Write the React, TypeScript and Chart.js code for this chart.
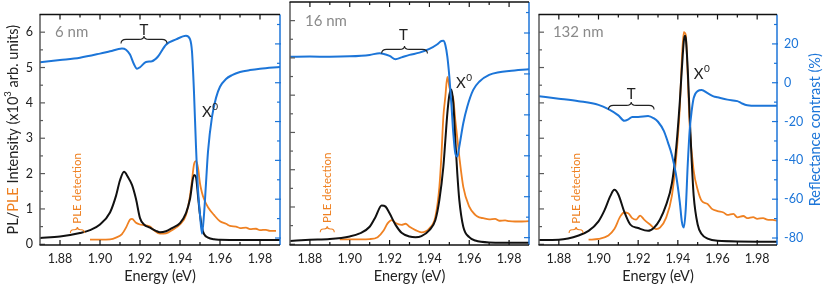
import React, { useEffect, useRef } from 'react';
import { Chart, registerables } from 'chart.js';

Chart.register(...registerables);

const FONT = 'Lato, "Open Sans", sans-serif';
const BLUE = '#1C75D8';
const ORANGE = '#EF8122';
const BLACK = '#111111';
const AXIS_GRAY = '#5a5a5a';
const TEXT = '#222222';
const LABEL_GRAY = '#8a8a8a';

// ---- axis ticks ----
const energyTicks = [1.88, 1.90, 1.92, 1.94, 1.96, 1.98];
const energyMinorTicks = [1.89, 1.91, 1.93, 1.95, 1.97];
const intensityTicks = [0, 1, 2, 3, 4, 5, 6];
const intensityMinorTicks = [0.5, 1.5, 2.5, 3.5, 4.5, 5.5];
const contrastTicks = [-80, -60, -40, -20, 0, 20];
const contrastMinorTicks = [-70, -50, -30, -10, 10, 30];

const E_MIN = 1.87, E_MAX = 1.99;
const I_MIN = -0.02, I_MAX = 6.5;
const R_MIN = -83.6, R_MAX = 35.15;

// ---- 6 nm ----
const pl6E = [1.87, 1.88, 1.89, 1.895, 1.90, 1.905, 1.908, 1.910, 1.912, 1.914, 1.916, 1.918, 1.92, 1.922, 1.925, 1.928, 1.93, 1.933, 1.936, 1.94, 1.943, 1.945, 1.947, 1.948, 1.949, 1.950, 1.951, 1.952, 1.954, 1.957, 1.96, 1.97, 1.99];
const pl6 = [0.18, 0.22, 0.32, 0.40, 0.56, 0.90, 1.37, 1.81, 2.05, 1.90, 1.68, 1.28, 0.74, 0.56, 0.47, 0.38, 0.34, 0.37, 0.46, 0.60, 0.88, 1.28, 1.96, 1.90, 1.37, 0.83, 0.47, 0.29, 0.19, 0.14, 0.13, 0.12, 0.12];
const ple6E = [1.895, 1.90, 1.905, 1.908, 1.911, 1.913, 1.915, 1.916, 1.918, 1.92, 1.922, 1.925, 1.927, 1.93, 1.933, 1.936, 1.94, 1.943, 1.945, 1.946, 1.947, 1.948, 1.949, 1.950, 1.951, 1.952, 1.954, 1.957, 1.96, 1.963, 1.965, 1.968, 1.97, 1.973, 1.975, 1.978, 1.98, 1.983, 1.985, 1.988];
const ple6 = [0.13, 0.13, 0.14, 0.19, 0.29, 0.47, 0.70, 0.72, 0.61, 0.56, 0.54, 0.50, 0.40, 0.30, 0.31, 0.40, 0.56, 0.83, 1.37, 1.81, 2.26, 2.35, 2.17, 1.72, 1.46, 1.28, 1.05, 0.83, 0.65, 0.58, 0.52, 0.50, 0.46, 0.47, 0.43, 0.44, 0.40, 0.41, 0.38, 0.38];
const rc6E = [1.87, 1.88, 1.89, 1.90, 1.905, 1.911, 1.913, 1.915, 1.917, 1.9185, 1.920, 1.923, 1.926, 1.929, 1.933, 1.938, 1.943, 1.945, 1.946, 1.947, 1.948, 1.949, 1.950, 1.951, 1.952, 1.953, 1.954, 1.956, 1.958, 1.96, 1.963, 1.966, 1.97, 1.975, 1.98, 1.99];
const rc6 = [10.6, 11.7, 12.9, 15.0, 16.2, 17.6, 17.0, 14.5, 9.5, 7.2, 8.0, 10.7, 11.1, 13.5, 19.6, 22.3, 24.2, 22.5, 16, -5, -33, -55, -68, -77.8, -68, -51.8, -35.5, -17.6, -7.8, -2.1, 1.9, 3.9, 5.5, 6.5, 7.2, 8.1];

// ---- 16 nm ----
const pl16E = [1.87, 1.88, 1.89, 1.90, 1.905, 1.91, 1.913, 1.916, 1.918, 1.92, 1.923, 1.926, 1.93, 1.933, 1.936, 1.94, 1.943, 1.945, 1.947, 1.948, 1.949, 1.950, 1.951, 1.952, 1.953, 1.954, 1.955, 1.957, 1.96, 1.963, 1.97, 1.99];
const pl16 = [0.09, 0.12, 0.14, 0.21, 0.29, 0.47, 0.74, 1.04, 1.01, 0.83, 0.52, 0.31, 0.21, 0.19, 0.22, 0.38, 0.65, 1.19, 2.08, 2.79, 3.51, 4.0, 4.15, 3.78, 2.79, 1.9, 1.19, 0.47, 0.19, 0.10, 0.05, 0.04];
const ple16E = [1.895, 1.90, 1.91, 1.914, 1.917, 1.919, 1.921, 1.923, 1.926, 1.928, 1.93, 1.933, 1.936, 1.94, 1.943, 1.945, 1.946, 1.947, 1.948, 1.949, 1.950, 1.951, 1.952, 1.953, 1.955, 1.957, 1.96, 1.963, 1.965, 1.967, 1.97, 1.973, 1.975, 1.978, 1.98, 1.983, 1.985, 1.99];
const ple16 = [0.13, 0.13, 0.14, 0.19, 0.37, 0.56, 0.65, 0.57, 0.52, 0.55, 0.47, 0.38, 0.32, 0.43, 0.74, 1.54, 2.35, 3.42, 3.96, 4.49, 4.22, 4.04, 3.9, 3.33, 2.35, 1.54, 1.01, 0.79, 0.72, 0.70, 0.67, 0.68, 0.63, 0.64, 0.62, 0.61, 0.61, 0.62];
const rc16E = [1.87, 1.88, 1.89, 1.90, 1.91, 1.915, 1.92, 1.923, 1.926, 1.93, 1.935, 1.94, 1.944, 1.946, 1.947, 1.948, 1.949, 1.950, 1.951, 1.952, 1.953, 1.954, 1.955, 1.957, 1.959, 1.962, 1.965, 1.97, 1.975, 1.98, 1.99];
const rc16 = [8.4, 8.5, 8.4, 8.6, 9.3, 10.1, 8.8, 7.2, 8.1, 9.3, 10.4, 12.2, 14.5, 16.1, 16.2, 14.1, 8.4, -1.3, -14.3, -29, -38.8, -40.4, -35.5, -24.1, -16, -7.8, -3.8, -0.5, 0.8, 1.4, 2.3];

// ---- 132 nm ----
const pl132E = [1.87, 1.88, 1.89, 1.895, 1.90, 1.903, 1.906, 1.908, 1.910, 1.913, 1.916, 1.92, 1.925, 1.928, 1.931, 1.934, 1.937, 1.939, 1.941, 1.942, 1.943, 1.9435, 1.944, 1.945, 1.946, 1.947, 1.948, 1.95, 1.952, 1.955, 1.96, 1.99];
const pl132 = [0.12, 0.13, 0.25, 0.38, 0.65, 0.96, 1.37, 1.54, 1.41, 0.92, 0.56, 0.46, 0.38, 0.47, 0.70, 1.1, 1.72, 2.62, 4.04, 4.94, 5.74, 5.9, 5.83, 4.94, 3.6, 2.35, 1.37, 0.56, 0.29, 0.16, 0.10, 0.07];
const ple132E = [1.895, 1.90, 1.905, 1.908, 1.911, 1.913, 1.915, 1.917, 1.919, 1.921, 1.923, 1.926, 1.929, 1.931, 1.934, 1.937, 1.939, 1.941, 1.942, 1.943, 1.944, 1.945, 1.946, 1.948, 1.95, 1.952, 1.955, 1.957, 1.96, 1.963, 1.965, 1.968, 1.97, 1.973, 1.975, 1.978, 1.98, 1.983, 1.985, 1.988, 1.99];
const ple132 = [0.13, 0.15, 0.25, 0.43, 0.79, 0.9, 0.88, 0.74, 0.70, 0.81, 0.70, 0.56, 0.43, 0.47, 0.74, 1.37, 2.35, 3.87, 5.2, 6.0, 5.92, 4.76, 3.33, 2.08, 1.54, 1.23, 1.14, 1.01, 0.94, 0.90, 0.83, 0.86, 0.76, 0.80, 0.74, 0.77, 0.72, 0.74, 0.70, 0.69, 0.67];
const rc132E = [1.87, 1.88, 1.89, 1.90, 1.905, 1.91, 1.913, 1.915, 1.917, 1.92, 1.925, 1.928, 1.93, 1.933, 1.935, 1.937, 1.939, 1.941, 1.942, 1.943, 1.944, 1.945, 1.946, 1.947, 1.948, 1.95, 1.952, 1.955, 1.958, 1.96, 1.965, 1.97, 1.972, 1.975, 1.98, 1.99];
const rc132 = [-7.0, -8.2, -9.5, -11.4, -13.6, -16.8, -19.6, -18.9, -17.6, -17.6, -17.1, -18.4, -20.1, -24.9, -30.7, -37.2, -46.9, -61.6, -71.4, -74.6, -64.9, -42, -24.1, -14.4, -7.9, -4.3, -3.8, -5.4, -7, -7.5, -8.7, -9.5, -10.5, -11.6, -11.9, -11.9];

const zip = (xs: number[], ys: number[]) => xs.map((x, i) => ({ x, y: ys[i] }));

const panels = [
  {
    key: 'p6', label: '6 nm', pl: zip(pl6E, pl6), ple: zip(ple6E, ple6), rc: zip(rc6E, rc6),
    padding: { left: 0, right: 550, top: 2, bottom: 0 }, showLeft: true, showRight: false,
    labelPos: [1.8775, 5.99], tPos: [1.922, 6.07], brace: [1.9105, 1.9335, 5.795], x0Pos: [1.951, 3.735], plePos: [1.8887, 0.3],
  },
  {
    key: 'p16', label: '16 nm', pl: zip(pl16E, pl16), ple: zip(ple16E, ple16), rc: zip(rc16E, rc16),
    padding: { left: 290, right: 301, top: 2, bottom: 0 }, showLeft: false, showRight: false,
    labelPos: [1.8775, 5.99], tPos: [1.927, 5.615], brace: [1.916, 1.939, 5.23], x0Pos: [1.9533, 4.33], plePos: [1.8887, 0.3],
  },
  {
    key: 'p132', label: '132 nm', pl: zip(pl132E, pl132), ple: zip(ple132E, ple132), rc: zip(rc132E, rc132),
    padding: { left: 539, right: 0, top: 2, bottom: 0 }, showLeft: false, showRight: true,
    labelPos: [1.877, 5.99], tPos: [1.9165, 4.25], brace: [1.905, 1.928, 3.93], x0Pos: [1.948, 4.81], plePos: [1.8887, 0.3],
  },
];

const line = (ctx: any, x1: number, y1: number, x2: number, y2: number) => {
  ctx.beginPath(); ctx.moveTo(x1, y1); ctx.lineTo(x2, y2); ctx.stroke();
};

const drawBrace = (ctx: any, x1: number, x2: number, y: number, h: number, r = 5) => {
  const xm = (x1 + x2) / 2;
  ctx.beginPath();
  ctx.moveTo(x1, y + h * 0.55);
  ctx.quadraticCurveTo(x1, y, x1 + r, y);
  ctx.lineTo(xm - r, y);
  ctx.quadraticCurveTo(xm, y, xm, y - h * 0.45);
  ctx.quadraticCurveTo(xm, y, xm + r, y);
  ctx.lineTo(x2 - r, y);
  ctx.quadraticCurveTo(x2, y, x2, y + h * 0.55);
  ctx.stroke();
};

const decoPlugin = {
  id: 'panelDeco',
  afterDatasetsDraw(chart: any, _args: any, o: any) {
    const { ctx, chartArea: a, scales } = chart;
    const sx = scales.x, sy = scales.y, sr = scales.y1;
    const MAJ = 5, MIN = 3;
    ctx.save();
    ctx.lineWidth = 1.2;
    // left axis
    ctx.strokeStyle = AXIS_GRAY;
    intensityTicks.forEach(v => { const y = sy.getPixelForValue(v); line(ctx, a.left, y, a.left + MAJ, y); });
    intensityMinorTicks.forEach(v => { const y = sy.getPixelForValue(v); line(ctx, a.left, y, a.left + MIN, y); });
    ctx.lineWidth = 1.5;
    line(ctx, a.left, a.top, a.left, a.bottom);
    // right axis
    ctx.lineWidth = 1.2;
    ctx.strokeStyle = BLUE;
    contrastTicks.forEach(v => { const y = sr.getPixelForValue(v); line(ctx, a.right + 1, y, a.right - MAJ, y); });
    contrastMinorTicks.forEach(v => { const y = sr.getPixelForValue(v); line(ctx, a.right, y, a.right - MIN, y); });
    ctx.lineWidth = 1.5;
    line(ctx, a.right, a.top, a.right, a.bottom);
    // top & bottom
    ctx.strokeStyle = BLACK;
    ctx.lineWidth = 1.2;
    energyTicks.forEach(v => { const x = sx.getPixelForValue(v); line(ctx, x, a.bottom, x, a.bottom - MAJ); line(ctx, x, a.top, x, a.top + MAJ); });
    energyMinorTicks.forEach(v => { const x = sx.getPixelForValue(v); line(ctx, x, a.bottom, x, a.bottom - MIN); line(ctx, x, a.top, x, a.top + MIN); });
    ctx.lineWidth = 1.5;
    line(ctx, a.left - 0.5, a.top, a.right, a.top);
    line(ctx, a.left - 0.5, a.bottom, a.right, a.bottom);

    // annotations
    ctx.textBaseline = 'middle';
    ctx.textAlign = 'left';
    ctx.fillStyle = LABEL_GRAY;
    ctx.font = `15px ${FONT}`;
    ctx.fillText(o.label, sx.getPixelForValue(o.labelPos[0]), sy.getPixelForValue(o.labelPos[1]));

    ctx.fillStyle = TEXT;
    ctx.textAlign = 'center';
    ctx.fillText('T', sx.getPixelForValue(o.tPos[0]), sy.getPixelForValue(o.tPos[1]));
    ctx.strokeStyle = TEXT;
    ctx.lineWidth = 1.1;
    drawBrace(ctx, sx.getPixelForValue(o.brace[0]), sx.getPixelForValue(o.brace[1]), sy.getPixelForValue(o.brace[2]), 7.5);

    ctx.textAlign = 'left';
    const xx = sx.getPixelForValue(o.x0Pos[0]), xy = sy.getPixelForValue(o.x0Pos[1]);
    ctx.font = `15px ${FONT}`;
    ctx.fillText('X', xx, xy);
    const w = ctx.measureText('X').width;
    ctx.font = `10px ${FONT}`;
    ctx.fillText('0', xx + w + 0.5, xy - 5);

    // PLE detection marker
    const px = sx.getPixelForValue(o.plePos[0]), py = sy.getPixelForValue(o.plePos[1]);
    ctx.strokeStyle = ORANGE;
    ctx.lineWidth = 1.1;
    drawBrace(ctx, px - 7, px + 7, py - 4, 6, 3);
    ctx.save();
    ctx.translate(px, py);
    ctx.rotate(-Math.PI / 2);
    ctx.fillStyle = ORANGE;
    ctx.font = `11.5px ${FONT}`;
    ctx.fillText('PLE detection', 10, 0);
    ctx.restore();

    if (o.leftTitle) {
      ctx.save();
      ctx.translate(13, (a.top + a.bottom) / 2);
      ctx.rotate(-Math.PI / 2);
      const segs = [
        { t: 'PL/', c: TEXT, s: 14.5, dy: 0 },
        { t: 'PLE', c: ORANGE, s: 14.5, dy: 0 },
        { t: ' Intensity (x10', c: TEXT, s: 14.5, dy: 0 },
        { t: '3', c: TEXT, s: 9.5, dy: -5 },
        { t: ' arb. units)', c: TEXT, s: 14.5, dy: 0 },
      ];
      let total = 0;
      segs.forEach(sg => { ctx.font = `${sg.s}px ${FONT}`; total += ctx.measureText(sg.t).width; });
      let x = -total / 2;
      ctx.textAlign = 'left';
      segs.forEach(sg => {
        ctx.font = `${sg.s}px ${FONT}`;
        ctx.fillStyle = sg.c;
        ctx.fillText(sg.t, x, sg.dy);
        x += ctx.measureText(sg.t).width;
      });
      ctx.restore();
    }
    if (o.rightTitle) {
      ctx.save();
      ctx.translate(815, (a.top + a.bottom) / 2);
      ctx.rotate(-Math.PI / 2);
      ctx.textAlign = 'center';
      ctx.fillStyle = BLUE;
      ctx.font = `14.5px ${FONT}`;
      ctx.fillText('Reflectance contrast (%)', 0, 0);
      ctx.restore();
    }
    ctx.restore();
  },
};

function Panel({ p }: { p: any }) {
  const ref = useRef<HTMLCanvasElement>(null);
  useEffect(() => {
    const chart = new Chart(ref.current as HTMLCanvasElement, {
      type: 'line',
      data: {
        datasets: [
          { label: 'Reflectance contrast', data: p.rc, yAxisID: 'y1', borderColor: BLUE, borderWidth: 2, pointRadius: 0, cubicInterpolationMode: 'monotone', order: 0 },
          { label: 'PL', data: p.pl, yAxisID: 'y', borderColor: BLACK, borderWidth: 2, pointRadius: 0, cubicInterpolationMode: 'monotone', order: 1 },
          { label: 'PLE', data: p.ple, yAxisID: 'y', borderColor: ORANGE, borderWidth: 1.8, pointRadius: 0, cubicInterpolationMode: 'monotone', order: 2 },
        ],
      } as any,
      options: {
        animation: false,
        responsive: false,
        events: [],
        layout: { padding: p.padding },
        plugins: {
          legend: { display: false },
          tooltip: { enabled: false },
          panelDeco: {
            label: p.label, labelPos: p.labelPos, tPos: p.tPos, brace: p.brace, x0Pos: p.x0Pos, plePos: p.plePos,
            leftTitle: p.showLeft, rightTitle: p.showRight,
          },
        } as any,
        scales: {
          x: {
            type: 'linear', min: E_MIN, max: E_MAX,
            afterBuildTicks: (s: any) => { s.ticks = energyTicks.map(value => ({ value })); },
            ticks: { callback: (v: any) => Number(v).toFixed(2), font: { family: FONT, size: 12.5 }, color: TEXT, padding: 6, maxRotation: 0, autoSkip: false },
            grid: { display: false, drawTicks: false },
            border: { display: false },
            title: { display: true, text: 'Energy (eV)', font: { family: FONT, size: 14.5 }, color: TEXT, padding: { top: 2, bottom: 2 } },
            afterFit: (s: any) => { s.height = 42; },
          },
          y: {
            type: 'linear', position: 'left', display: p.showLeft, min: I_MIN, max: I_MAX,
            afterBuildTicks: (s: any) => { s.ticks = intensityTicks.map(value => ({ value })); },
            ticks: { callback: (v: any) => String(v), font: { family: FONT, size: 12.5 }, color: TEXT, padding: 7 },
            grid: { display: false, drawTicks: false },
            border: { display: false },
            afterFit: (s: any) => { s.width = p.showLeft ? 40 : 0; },
          },
          y1: {
            type: 'linear', position: 'right', display: p.showRight, min: R_MIN, max: R_MAX,
            afterBuildTicks: (s: any) => { s.ticks = contrastTicks.map(value => ({ value })); },
            ticks: { callback: (v: any) => String(v), font: { family: FONT, size: 12.5 }, color: BLUE, padding: 7 },
            grid: { display: false, drawTicks: false },
            border: { display: false },
            afterFit: (s: any) => { s.width = p.showRight ? 53 : 0; },
          },
        } as any,
      },
      plugins: [decoPlugin],
    } as any);
    return () => chart.destroy();
  }, []);
  return <canvas ref={ref} width={830} height={287} style={{ position: 'absolute', left: 0, top: 0 }} />;
}

export default function App() {
  return (
    <div style={{ position: 'absolute', left: 0, top: 0, width: 830, height: 287, background: '#ffffff' }}>
      {panels.map(p => <Panel key={p.key} p={p} />)}
    </div>
  );
}
